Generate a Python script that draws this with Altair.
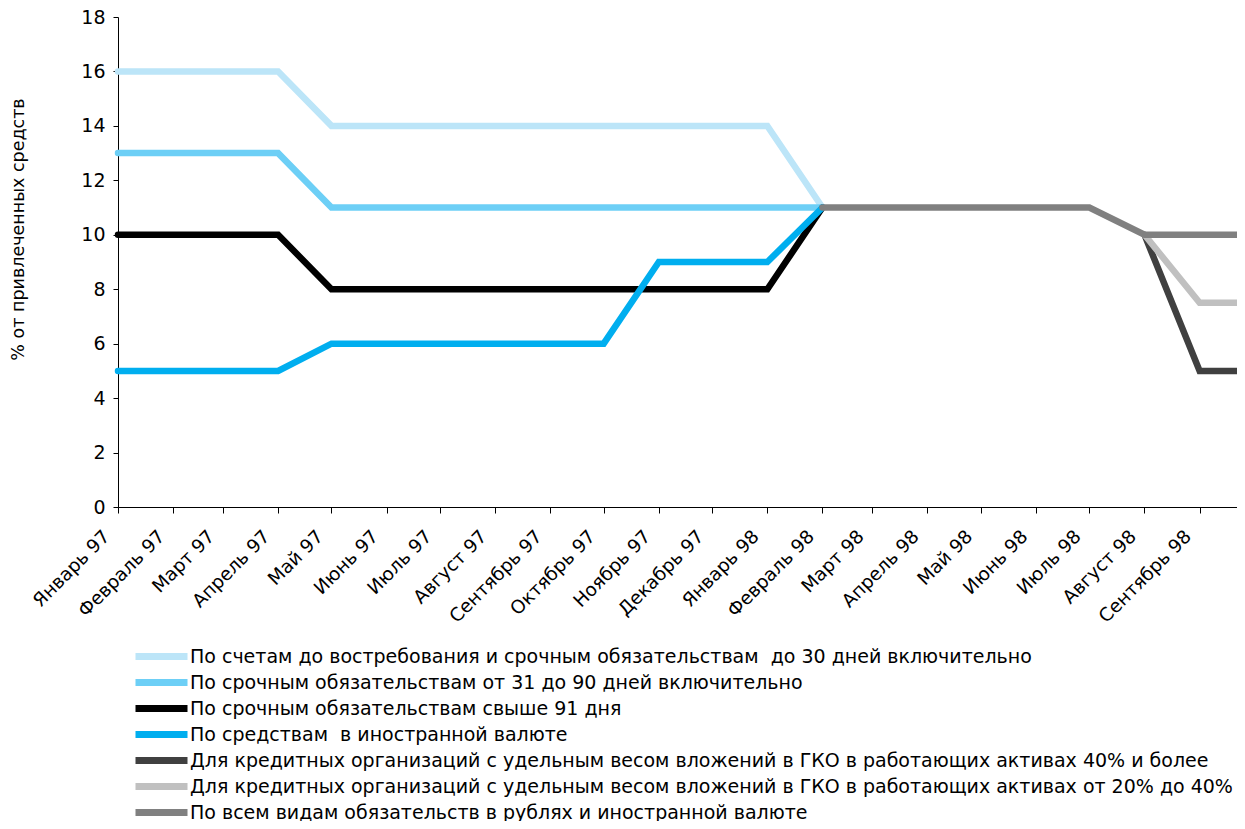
import altair as alt
import pandas as pd

# ---- data ----
dates = ["1997-01-01", "1997-02-01", "1997-03-01", "1997-04-01", "1997-05-01",
         "1997-06-01", "1997-07-01", "1997-08-01", "1997-09-01", "1997-10-01",
         "1997-11-01", "1997-12-01", "1998-01-01", "1998-02-01", "1998-03-01",
         "1998-04-01", "1998-05-01", "1998-06-01", "1998-07-01", "1998-08-01",
         "1998-09-01", "1998-09-22"]
month_labels = ["Январь 97", "Февраль 97", "Март 97", "Апрель 97", "Май 97",
                "Июнь 97", "Июль 97", "Август 97", "Сентябрь 97", "Октябрь 97",
                "Ноябрь 97", "Декабрь 97", "Январь 98", "Февраль 98", "Март 98",
                "Апрель 98", "Май 98", "Июнь 98", "Июль 98", "Август 98",
                "Сентябрь 98"]

series_names = [
    "По счетам до востребования и срочным обязательствам\u00a0 до 30 дней включительно",
    "По срочным обязательствам от 31 до 90 дней включительно",
    "По срочным обязательствам свыше 91 дня",
    "По средствам\u00a0 в иностранной валюте",
    "Для кредитных организаций с удельным весом вложений в ГКО в работающих активах 40% и более",
    "Для кредитных организаций с удельным весом вложений в ГКО в работающих активах от 20% до 40%",
    "По всем видам обязательств в рублях и иностранной валюте",
]
N = None
s_upto30 = [16, 16, 16, 16, 14, 14, 14, 14, 14, 14, 14, 14, 14, 11, N, N, N, N, N, N, N, N]
s_31_90 = [13, 13, 13, 13, 11, 11, 11, 11, 11, 11, 11, 11, 11, 11, N, N, N, N, N, N, N, N]
s_over91 = [10, 10, 10, 10, 8, 8, 8, 8, 8, 8, 8, 8, 8, 11, N, N, N, N, N, N, N, N]
s_fx = [5, 5, 5, 5, 6, 6, 6, 6, 6, 6, 9, 9, 9, 11, N, N, N, N, N, N, N, N]
s_gko40 = [N, N, N, N, N, N, N, N, N, N, N, N, N, N, N, N, N, N, N, 10, 5, 5]
s_gko20 = [N, N, N, N, N, N, N, N, N, N, N, N, N, N, N, N, N, N, N, 10, 7.5, 7.5]
s_all = [N, N, N, N, N, N, N, N, N, N, N, N, N, 11, 11, 11, 11, 11, 11, 10, 10, 10]
colors = ["#bce5f8", "#6dcff6", "#000000", "#00aeef", "#404040", "#c0c0c0", "#808080"]
y_ticks = [0, 2, 4, 6, 8, 10, 12, 14, 16, 18]

# ---- build table ----
start = pd.Timestamp("1997-01-01")
days = [(pd.Timestamp(d) - start).days for d in dates]
rows = []
for order, (name, vals) in enumerate(zip(series_names,
                                         [s_upto30, s_31_90, s_over91, s_fx, s_gko40, s_gko20, s_all])):
    for d, v in zip(days, vals):
        if v is not None:
            rows.append({"day": d, "value": v, "series": name, "order": order})
df = pd.DataFrame(rows)

tick_days = days[:len(month_labels)]
label_expr = ("[" + ",".join("'" + l + "'" for l in month_labels) + "][indexof(["
              + ",".join(str(t) for t in tick_days) + "], datum.value)]")

FONT = "DejaVu Sans"

chart = alt.Chart(df).mark_line(strokeWidth=6.5, strokeCap="round", strokeJoin="miter").encode(
    x=alt.X("day:Q",
            scale=alt.Scale(domain=[0, days[-1]], nice=False, zero=False),
            axis=alt.Axis(values=tick_days, labelExpr=label_expr, labelAngle=-45,
                          labelAlign="right", labelBaseline="middle", labelPadding=20,
                          labelOffset=-12,
                          labelFontSize=18.5, labelColor="#000", tickSize=6, tickColor="#000",
                          domainColor="#000", grid=False, title=None, labelOverlap=False,
                          labelFont=FONT, labelBound=False)),
    y=alt.Y("value:Q",
            scale=alt.Scale(domain=[0, 18], nice=False),
            axis=alt.Axis(values=y_ticks, labelFontSize=19, labelColor="#000", tickSize=5,
                          tickColor="#000", domainColor="#000", grid=False, labelPadding=8,
                          title="% от привлеченных средств", titleFontSize=17.5,
                          titleFontWeight="normal", titleColor="#000", titleFont=FONT,
                          titleX=-100, titleY=212, titleAngle=270, titleAlign="center",
                          titleBaseline="middle", labelFont=FONT)),
    color=alt.Color("series:N", sort=series_names,
                    scale=alt.Scale(domain=series_names, range=colors),
                    legend=alt.Legend(orient="none", legendX=14, legendY=628, title=None,
                                      symbolType="M-1,0H5.5", symbolSize=256,
                                      symbolStrokeWidth=7, labelFontSize=19, labelColor="#000",
                                      labelFont=FONT, rowPadding=-5, labelOffset=35,
                                      labelLimit=1200, symbolOffset=0)),
    order=alt.Order("order:Q"),
    detail="series:N",
).properties(
    width=1119, height=490,
    autosize=alt.AutoSizeParams(type="none"),
    padding={"left": 110, "top": 9, "right": 0, "bottom": 314},
).configure(font=FONT).configure_view(stroke=None)

chart.save("out.html", embed_options={"renderer": "svg", "actions": False})
